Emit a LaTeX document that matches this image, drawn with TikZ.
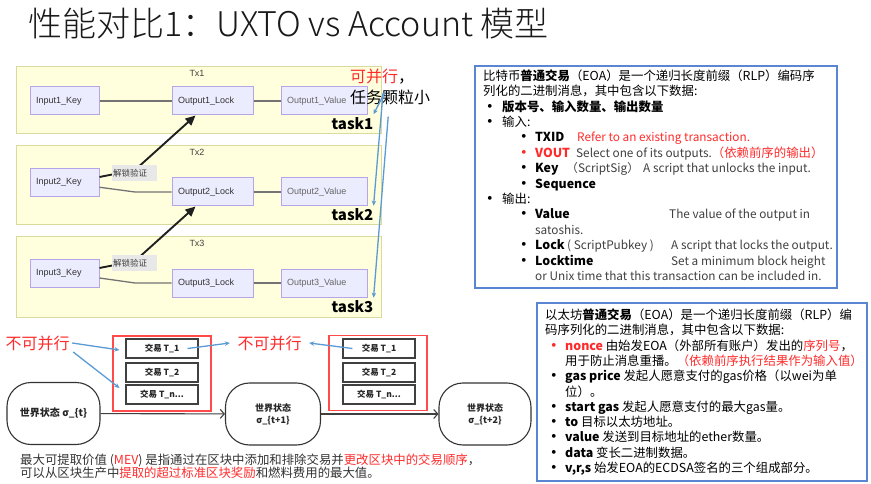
\documentclass[tikz,border=0pt]{standalone}
\usepackage{fontspec}
\setmainfont{Noto Sans CJK SC}
\newfontfamily\mmd{Liberation Sans}
\newfontfamily\titlefont{Noto Sans CJK SC}[UprightFont={* Light}]
\usetikzlibrary{arrows.meta}

\definecolor{clfill}{HTML}{FFFFDE}
\definecolor{cldraw}{HTML}{DADA9C}
\definecolor{ndfill}{HTML}{ECECFF}
\definecolor{nddraw}{HTML}{B6A6E8}
\definecolor{hint}{HTML}{5B9BD5}
\definecolor{hot}{HTML}{FF2B2B}
\definecolor{panelblue}{HTML}{5A85D2}

\tikzset{
  cluster/.style={draw=cldraw, fill=clfill, line width=1pt},
  txlabel/.style={inner sep=0pt, font=\mmd\fontsize{9}{10}\selectfont, text=black!75},
  txnode/.style={draw=nddraw, fill=ndfill, line width=1pt, minimum height=28pt,
    inner xsep=6pt, inner ysep=0pt, text width=#1, align=left,
    font=\mmd\fontsize{9}{10}\selectfont, text=black!80},
  link/.style={draw=black!55, line width=1.3pt},
  unlock/.style={draw=black!88, line width=1.9pt, -{Triangle[length=10pt,width=9pt]}},
  elabel/.style={fill=black!9, text=black!75, inner xsep=1pt, inner ysep=0pt,
    text width=43pt, minimum height=16pt, align=left, font=\fontsize{8.5}{9}\selectfont},
  task/.style={inner sep=0pt, font=\bfseries\fontsize{15}{16}\selectfont},
  big/.style={anchor=west, inner sep=0pt, font=\fontsize{16}{18}\selectfont},
  hintarrow/.style={draw=hint, line width=1.3pt, -{Stealth[length=5pt,width=4.5pt]}},
  warn/.style={inner sep=0pt, text=hot, font=\fontsize{16}{18}\selectfont},
  blockbox/.style={draw=hot!85, line width=1.4pt, minimum width=98pt, minimum height=75pt, inner sep=0pt},
  trade/.style={draw=black!75, fill=white, line width=1.1pt, minimum width=72pt, minimum height=19pt,
    inner sep=0pt, font=\bfseries\fontsize{8.5}{9}\selectfont, text=black!85},
  state/.style={draw=black!80, fill=white, line width=1.1pt, rounded corners=24pt,
    minimum width=95pt, minimum height=62pt, inner sep=0pt, align=center,
    font=\bfseries\fontsize{9}{12}\selectfont, text=black!85},
  flow/.style={draw=black!75, line width=1.1pt, -{Straight Barb[length=4pt,width=9pt]}},
  panel/.style={draw=panelblue, line width=1.2pt},
  txt/.style={anchor=base west, inner sep=0pt},
  dot/.style={anchor=base west, inner sep=0pt, font=\bfseries\fontsize{13.5}{15}\selectfont},
  soft/.style={text=black!75, font=\fontsize{11.8}{15}\selectfont}
}

\begin{document}
\begin{tikzpicture}[x=1pt, y=-1pt, font=\fontsize{12.4}{15}\selectfont]
\fill[white] (0,0) rectangle (871,484);
\useasboundingbox (0,0) rectangle (871,484);

% title
\node[anchor=base west, inner sep=0pt, font=\titlefont\fontsize{34}{40}\selectfont, text=black!90] (title) at (28,37) {性能对比1：UXTO vs Account 模型};

% UTXO transactions
\foreach \i/\ytop/\ybot/\yin/\yout/\ytask in {1/67/134/101/101/123.5, 2/146/225/182.5/192/215, 3/237/317/273/283/307}{
  \draw[cluster] (16,\ytop) rectangle (381,\ybot);
  \node[txlabel] (tx\i) at (197,\ytop+6) {Tx\i};
  \node[txnode=57pt] (in\i) at (64.5,\yin) {Input\i\_Key};
  \node[txnode=69pt] (lock\i) at (212.5,\yout) {Output\i\_Lock};
  \node[txnode=74pt, text=black!60] (val\i) at (324,\yout) {Output\i\_Value};
  \draw[link] ([yshift={(\yin-\yout)/2}]in\i.east) -- (135,\yout) -- (lock\i.west);
  \draw[link] (lock\i) -- (val\i);
  \node[task] (task\i) at (352.5,\ytask) {task\i};
}

\draw[unlock] ([yshift=5.5pt]in2.east) -- (135,170) -- ([xshift=-17pt]lock1.south);
\node[elabel] (lab2) at (134.5,173) {解锁验证};
\draw[unlock] ([yshift=5pt]in3.east) -- (135,261) -- ([xshift=-17pt]lock2.south);
\node[elabel] (lab3) at (134.5,263) {解锁验证};

% parallel note
\node[big] (par1) at (350,77) {\textcolor{hot}{可并行}，};
\node[big] (par2) at (350,97) {任务颗粒小};
\coordinate (s1) at ([shift={(35pt,5pt)}]par2.west);
\coordinate (s2) at ([shift={(33pt,4pt)}]par2.west);
\coordinate (s3) at ([shift={(-2pt,-12pt)}]par2.south);
\draw[hintarrow] (s1) -- ([yshift=3pt]task1.north east);
\draw[hintarrow] (s2) -- ([yshift=3pt]task2.north east);
\draw[hintarrow] (s3) -- ([yshift=3pt]task3.north east);

% account model blocks
\node[warn] (np1) at (37.5,343) {不可并行};
\node[warn] (np2) at (269.5,343) {不可并行};
\node[blockbox] (blk1) at (162,373.5) {};
\node[blockbox] (blk2) at (378,373) {};
\foreach \g/\x in {a/162, b/379}{
  \node[trade] (\g1) at (\x,348.5) {交易 T\_1};
  \node[trade] (\g2) at (\x,372.5) {交易 T\_2};
  \node[trade] (\g3) at (\x,394.5) {交易 T\_n...};
}
\draw[hintarrow] ([xshift=2.5pt]np1.east) -- ([shift={(-6pt,-1.5pt)}]a1.west);
\draw[hintarrow] ([shift={(3.5pt,-9pt)}]np1.east) -- ([shift={(-6pt,6.5pt)}]a3.west);
\draw[hintarrow] ([xshift=-11pt]a1.east) -- ([xshift=-7.5pt]np2.west);
\draw[hintarrow] ([xshift=10pt]b1.west) -- ([xshift=7.5pt]np2.east);

\node[state, minimum width=93pt, font=\bfseries\fontsize{10}{12}\selectfont] (st1) at (53.5,413.5) {世界状态 σ\_\{t\}};
\node[state] (st2) at (273,414) {世界状态\\σ\_\{t+1\}};
\node[state, minimum width=92pt] (st3) at (485,414) {世界状态\\σ\_\{t+2\}};
\draw[flow] (st1) -- (st2);
\draw[flow] (st2) -- (st3);

\node[txt, text=black!80] (mev1) at (20,464.5) {最大可提取价值 (\textcolor{hot}{MEV}) 是指通过在区块中添加和排除交易并\textcolor{hot}{更改区块中的交易顺序}，};
\node[txt, text=black!80] (mev2) at (20,477.5) {可以从区块生产中\textcolor{hot}{提取的超过标准区块奖励}和燃料费用的最大值。};

% bitcoin panel
\draw[panel] (475,66) rectangle (837,288);
\node[txt] (r0) at (483,80.5) {比特币\textbf{普通交易}（EOA）是一个递归长度前缀（RLP）编码序};
\node[txt] (r1) at (483,95.9) {列化的二进制消息，其中包含以下数据:};
\foreach \x/\y [count=\k] in {483/111.3, 483/126.6, 517/142, 517/172.8, 517/188.2, 483/203.5, 517/218.9, 517/249.7, 517/265.1}{
  \node[dot] (dot\k) at (\x,\y) {•};
}
\node[dot, text=hot] (dotv) at (517,157.4) {•};
\node[txt] (r2) at (502,111.3) {\textbf{版本号、输入数量、输出数量}};
\node[txt] (r3) at (502,126.6) {输入:};
\node[txt] (r4) at (535,142) {\textbf{TXID}};
\node[txt, text=hot, font=\fontsize{11.8}{15}\selectfont] (r4b) at (577,142) {Refer to an existing transaction.};
\node[txt, text=hot] (r5) at (535,157.4) {\textbf{VOUT}};
\node[txt, soft] (r5b) at (576,157.4) {Select one of its outputs.\textcolor{hot}{\fontsize{12.4}{15}\selectfont（依赖前序的输出）}};
\node[txt] (r6) at (535,172.8) {\textbf{Key}};
\node[txt, soft] (r6b) at (566,172.8) {（ScriptSig）};
\node[txt, soft] (r6c) at (643,172.8) {A script that unlocks the input.};
\node[txt] (r7) at (535,188.2) {\textbf{Sequence}};
\node[txt] (r8) at (502,203.5) {输出:};
\node[txt] (r9) at (535,218.9) {\textbf{Value}};
\node[txt, soft] (r9b) at (669,218.9) {The value of the output in};
\node[txt, soft] (r10) at (535,234.3) {satoshis.};
\node[txt] (r11) at (535,249.7) {\textbf{Lock}};
\node[txt, soft] (r11b) at (567,249.7) {( ScriptPubkey )};
\node[txt, soft] (r11c) at (671,249.7) {A script that locks the output.};
\node[txt] (r12) at (535,265.1) {\textbf{Locktime}};
\node[txt, soft] (r12b) at (671,265.1) {Set a minimum block height};
\node[txt, soft] (r13) at (535,280.4) {or Unix time that this transaction can be included in.};

% ethereum panel
\draw[panel] (537,303) rectangle (867,481);
\node[txt] (e0) at (545,319.5) {以太坊\textbf{普通交易}（EOA）是一个递归长度前缀（RLP）编};
\node[txt] (e1) at (545,334.8) {码序列化的二进制消息，其中包含以下数据:};
\node[dot, text=hot] (edot1) at (547,350.1) {•};
\foreach \y [count=\k from 2] in {380.7, 411.3, 426.6, 441.9, 457.2, 472.5}{
  \node[dot] (edot\k) at (547,\y) {•};
}
\node[txt] (e2) at (565,350.1) {\textcolor{hot}{\textbf{nonce}} 由始发EOA（外部所有账户）发出的\textcolor{hot}{序列号}，};
\node[txt] (e3) at (565,365.4) {用于防止消息重播。\textcolor{hot}{（依赖前序执行结果作为输入值）}};
\node[txt] (e4) at (565,380.7) {\textbf{gas price} 发起人愿意支付的gas价格（以wei为单};
\node[txt] (e5) at (565,396) {位）。};
\node[txt] (e6) at (565,411.3) {\textbf{start gas} 发起人愿意支付的最大gas量。};
\node[txt] (e7) at (565,426.6) {\textbf{to} 目标以太坊地址。};
\node[txt] (e8) at (565,441.9) {\textbf{value} 发送到目标地址的ether数量。};
\node[txt] (e9) at (565,457.2) {\textbf{data} 变长二进制数据。};
\node[txt] (e10) at (565,472.5) {\textbf{v,r,s} 始发EOA的ECDSA签名的三个组成部分。};
\end{tikzpicture}
\end{document}
